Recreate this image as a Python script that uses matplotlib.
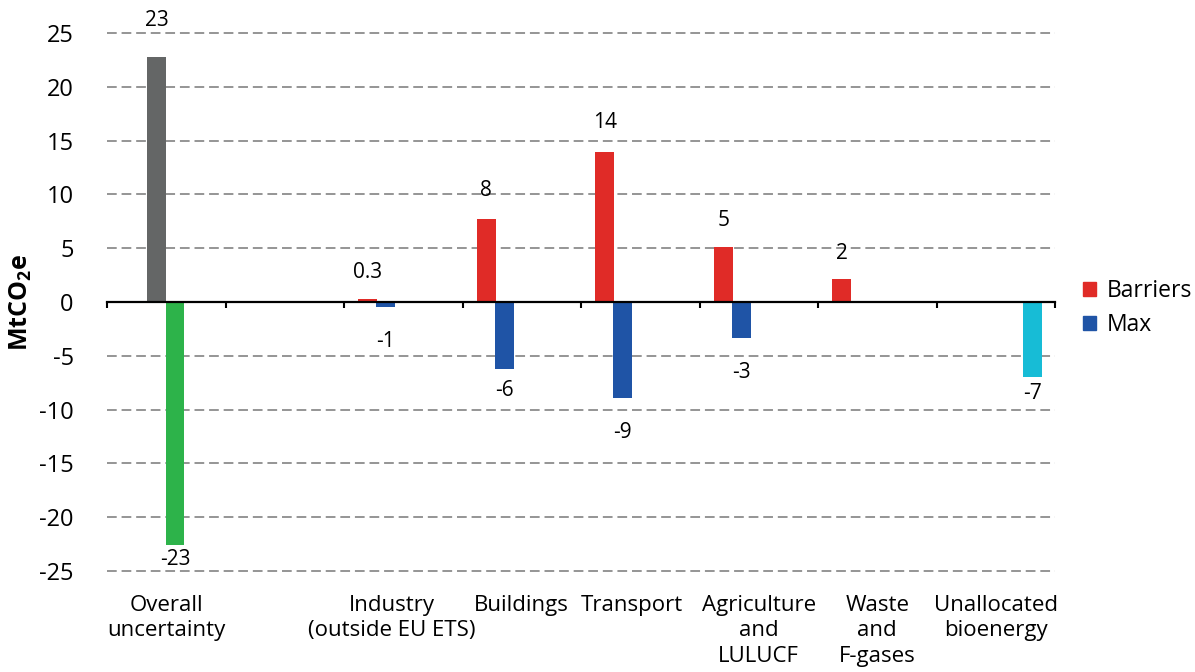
import matplotlib
matplotlib.use("Agg")
import matplotlib.pyplot as plt
import numpy as np
from matplotlib.patches import Patch
from matplotlib.transforms import blended_transform_factory

plt.rcParams['font.family'] = ['Open Sans', 'DejaVu Sans']
plt.rcParams['mathtext.fontset'] = 'custom'
plt.rcParams['mathtext.rm'] = 'Open Sans'
plt.rcParams['mathtext.bf'] = 'Open Sans:bold'
plt.rcParams['axes.unicode_minus'] = False

# ---------------- data ----------------
categories = ["Overall\nuncertainty", "", "Industry\n(outside EU ETS)", "Buildings",
              "Transport", "Agriculture\nand\nLULUCF", "Waste\nand\nF-gases",
              "Unallocated\nbioenergy"]
overall_upper = [22.8, None, None, None, None, None, None, None]
overall_lower = [-22.6, None, None, None, None, None, None, None]
barriers = [None, None, 0.25, 7.75, 13.95, 5.1, 2.1, None]
max_vals = [None, None, -0.5, -6.2, -8.95, -3.3, None, None]
bioenergy = [None, None, None, None, None, None, None, -7.0]

overall_upper_labels = ["23", "", "", "", "", "", "", ""]
overall_lower_labels = ["-23", "", "", "", "", "", "", ""]
barriers_labels = ["", "", "0.3", "8", "14", "5", "2", ""]
max_labels = ["", "", "-1", "-6", "-9", "-3", "", ""]
bioenergy_labels = ["", "", "", "", "", "", "", "-7"]

yticks = [-25, -20, -15, -10, -5, 0, 5, 10, 15, 20, 25]
legend_labels = ["Barriers", "Max"]

# ---------------- layout / style ----------------
W, H = 1195, 672
fig = plt.figure(figsize=(W / 100, H / 100), dpi=100)
ax = fig.add_axes([107 / W, 1 - 576.4 / H, (1055 - 107) / W, 548.8 / H])

bar_w = 0.158
px = 72 / 100  # points per pixel
series = [
    # values, labels, color, x-offset, label offsets (px, + up)
    (overall_upper, overall_upper_labels, "#646666", -0.082, [36]),
    (overall_lower, overall_lower_labels, "#2db34a", 0.075, [-14]),
    (barriers, barriers_labels, "#e02b27", -0.30, [None, None, 27, 28, 29, 27, 26, None]),
    (max_vals, max_labels, "#1f54a6", -0.148, [None, None, -34, -22, -34, -35, None, None]),
    (bioenergy, bioenergy_labels, "#17bcd6", 0.31, [None] * 7 + [-16]),
]

for vals, labs, col, off, dys in series:
    idx = [i for i, v in enumerate(vals) if v is not None]
    xs = np.array(idx) + off
    hs = [vals[i] for i in idx]
    ax.bar(xs, hs, width=bar_w, color=col, zorder=2)
    for i, x in zip(idx, xs):
        dy = dys[i] if len(dys) > i else dys[0]
        ax.annotate(labs[i], (x, vals[i]), xytext=(0, dy * px), textcoords="offset points",
                    ha="center", va="center", fontsize=15, color="black")

ax.set_xlim(-0.5, len(categories) - 0.5)
ax.set_ylim(-25.5, 25.5)
ax.set_yticks(yticks)
ax.set_yticklabels([str(t) for t in yticks])
ax.tick_params(axis="y", length=0, pad=24, labelsize=17)

ax.yaxis.grid(True, color="#959595", linestyle=(0, (5, 2.5)), linewidth=1.4)
ax.set_axisbelow(True)

for s in ["left", "right", "top"]:
    ax.spines[s].set_visible(False)
ax.spines["bottom"].set_position(("data", 0))
ax.spines["bottom"].set_linewidth(1.6)
ax.spines["bottom"].set_zorder(3)
ax.set_xticks(np.arange(-0.5, len(categories), 1.0))
ax.set_xticklabels([])
ax.tick_params(axis="x", direction="out", length=4, width=1.5, color="black")

# small horizontal nudges of category labels (in category units)
label_shift = [0.0, 0.0, -0.093, 0.0, -0.068, 0.0, 0.0, 0.0]
trans = blended_transform_factory(ax.transData, fig.transFigure)
for i, c in enumerate(categories):
    if c:
        ax.text(i + label_shift[i], 1 - 595 / H, c, transform=trans, ha="center", va="top",
                fontsize=16, linespacing=1.27, multialignment="center")

fig.text(21 / W, 1 - 303 / H, r"$\mathbf{MtCO_2e}$", rotation=90, ha="center",
         va="center", fontsize=18)

legend_handles = [Patch(color="#e02b27"), Patch(color="#1f54a6")]
fig.legend(legend_handles, legend_labels, loc="center left",
           bbox_to_anchor=(1083 / W, 1 - 308 / H), frameon=False, fontsize=16.5,
           handlelength=0.57, handleheight=0.57, handletextpad=0.45,
           labelspacing=0.42, borderpad=0, borderaxespad=0)

fig.savefig("out.png", dpi=100)
